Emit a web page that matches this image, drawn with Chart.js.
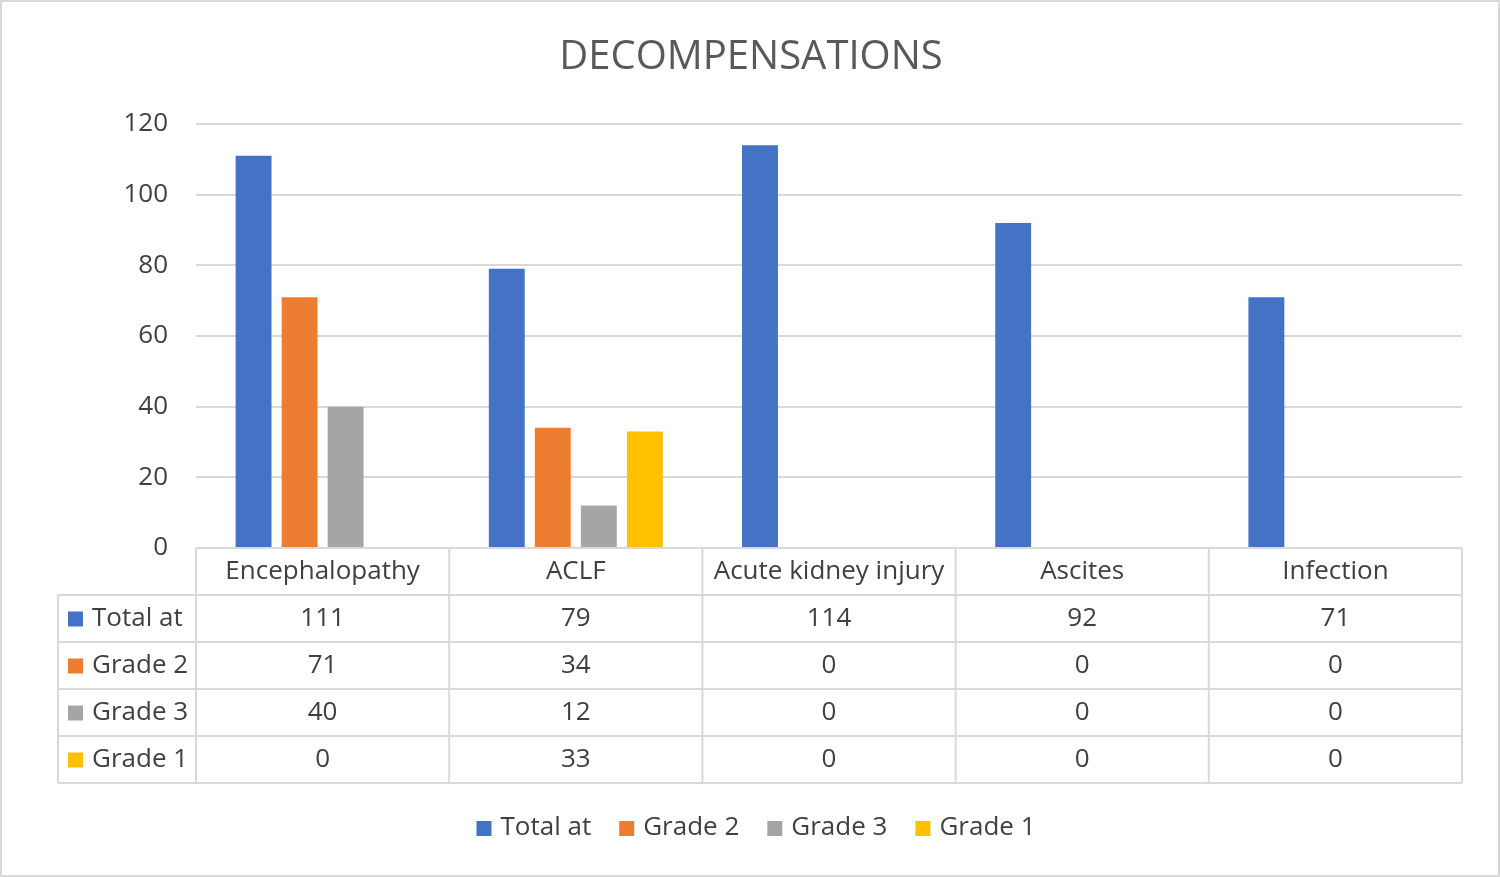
<!DOCTYPE html>
<html>
<head>
<meta charset="utf-8">
<script src="https://cdn.jsdelivr.net/npm/chart.js@4.4.1/dist/chart.umd.min.js"></script>
<style>
  html, body { margin: 0; padding: 0; background: #fff; }
  #wrap { width: 1500px; height: 877px; position: relative; }
</style>
</head>
<body>
<div id="wrap"><canvas id="grafico" width="1500" height="877"></canvas></div>
<script>
const categorias = ["Encephalopathy", "ACLF", "Acute kidney injury", "Ascites", "Infection"];
const totalAt = [111, 79, 114, 92, 71];
const grade2 = [71, 34, 0, 0, 0];
const grade3 = [40, 12, 0, 0, 0];
const grade1 = [0, 33, 0, 0, 0];
const nomesSeries = ["Total at", "Grade 2", "Grade 3", "Grade 1"];
const cores = ["#4472C4", "#ED7D31", "#A5A5A5", "#FFC000"];
const yTicks = [0, 20, 40, 60, 80, 100, 120];

const FONTE = "'Open Sans', 'Noto Sans', sans-serif";
const COR_TEXTO = "#404040";
const COR_LINHA = "#D9D9D9";

// tabela de dados + titulo + legenda desenhados por cima do grafico
const tabelaPlugin = {
    id: "tabela",
    afterDraw(chart) {
        const ctx = chart.ctx;
        const area = chart.chartArea;
        const x = chart.scales.x;
        const series = chart.data.datasets;
        const larg = (area.right - area.left) / categorias.length;
        const rowH = 47;
        const topo = area.bottom;
        const esq = 58;

        ctx.save();
        // titulo
        ctx.fillStyle = "#595959";
        ctx.font = "40px " + FONTE;
        ctx.textAlign = "center";
        ctx.textBaseline = "middle";
        ctx.fillText("DECOMPENSATIONS", 751, 58);

        // linhas da tabela
        ctx.strokeStyle = COR_LINHA;
        ctx.lineWidth = 2;
        ctx.beginPath();
        // cabecalho
        ctx.moveTo(area.left, topo);
        ctx.lineTo(area.right, topo);
        for (let r = 1; r <= series.length + 1; r++) {
            const yy = topo + r * rowH;
            ctx.moveTo(esq, yy);
            ctx.lineTo(area.right, yy);
        }
        ctx.moveTo(esq, topo + rowH);
        ctx.lineTo(esq, topo + rowH * (series.length + 1));
        for (let c = 0; c <= categorias.length; c++) {
            const xx = area.left + c * larg;
            ctx.moveTo(xx, topo);
            ctx.lineTo(xx, topo + rowH * (series.length + 1));
        }
        ctx.stroke();

        ctx.font = "26px " + FONTE;
        ctx.fillStyle = COR_TEXTO;
        ctx.textBaseline = "middle";
        ctx.textAlign = "center";
        categorias.forEach((cat, i) => {
            ctx.fillText(cat, x.getPixelForValue(i), topo + rowH / 2);
        });
        series.forEach((ds, r) => {
            const yy = topo + rowH * (r + 1.5);
            ctx.fillStyle = ds.backgroundColor;
            ctx.fillRect(68, yy - 7, 15, 15);
            ctx.fillStyle = COR_TEXTO;
            ctx.textAlign = "left";
            ctx.fillText(ds.label, 92, yy);
            ctx.textAlign = "center";
            ds.data.forEach((v, i) => {
                ctx.fillText(String(v), x.getPixelForValue(i), yy);
            });
        });

        // legenda
        const itens = series.map(ds => ({ txt: ds.label, cor: ds.backgroundColor, w: ctx.measureText(ds.label).width }));
        const gap = 28, caixa = 15, sep = 9;
        let total = 0;
        itens.forEach((it, i) => { total += caixa + sep + it.w + (i < itens.length - 1 ? gap : 0); });
        let lx = 756 - total / 2;
        const ly = 828;
        ctx.textAlign = "left";
        itens.forEach(it => {
            ctx.fillStyle = it.cor;
            ctx.fillRect(lx, ly - 7, caixa, caixa);
            ctx.fillStyle = COR_TEXTO;
            ctx.fillText(it.txt, lx + caixa + sep, ly);
            lx += caixa + sep + it.w + gap;
        });

        // borda externa
        ctx.strokeStyle = COR_LINHA;
        ctx.lineWidth = 2;
        ctx.strokeRect(1, 1, chart.width - 2, chart.height - 2);
        ctx.restore();
    }
};

const ctx = document.getElementById("grafico");

new Chart(ctx, {
    type: "bar",
    data: {
        labels: categorias,
        datasets: [
            { label: nomesSeries[0], data: totalAt, backgroundColor: cores[0] },
            { label: nomesSeries[1], data: grade2, backgroundColor: cores[1] },
            { label: nomesSeries[2], data: grade3, backgroundColor: cores[2] },
            { label: nomesSeries[3], data: grade1, backgroundColor: cores[3] }
        ]
    },
    options: {
        responsive: false,
        animation: false,
        devicePixelRatio: 1,
        layout: {
            padding: { top: 124, right: 38, bottom: 321, left: 0 }
        },
        datasets: {
            bar: { categoryPercentage: 0.727, barPercentage: 0.78 }
        },
        plugins: {
            legend: { display: false },
            title: { display: false },
            tooltip: { enabled: false }
        },
        scales: {
            x: {
                grid: { display: false },
                border: { display: false },
                ticks: { display: false }
            },
            y: {
                min: 0,
                max: 120,
                afterFit(scale) { scale.width = 196; },
                afterBuildTicks(scale) { scale.ticks = yTicks.map(v => ({ value: v })); },
                grid: { color: COR_LINHA, lineWidth: 2, drawTicks: false },
                border: { display: false },
                ticks: {
                    padding: 28,
                    color: COR_TEXTO,
                    font: { family: FONTE, size: 26 }
                }
            }
        }
    },
    plugins: [tabelaPlugin]
});
</script>
</body>
</html>
